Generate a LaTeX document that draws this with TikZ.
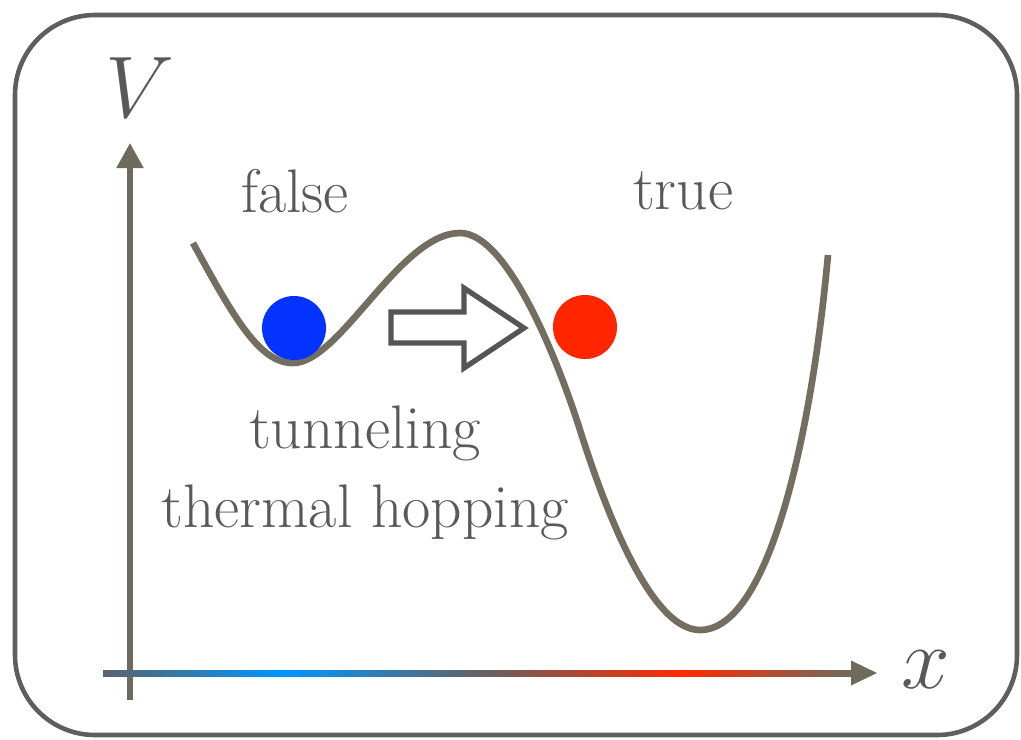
\documentclass[tikz,border=0pt]{standalone}
\usetikzlibrary{arrows.meta}

\definecolor{framegray}{HTML}{5E5E5E}
\definecolor{curvegray}{HTML}{736E5F}
\definecolor{axisgray}{HTML}{6F6B5C}
\definecolor{textgray}{HTML}{595959}
\definecolor{ballblue}{HTML}{0433FF}
\definecolor{ballred}{HTML}{FF2600}
\definecolor{axleft}{HTML}{5A626C}
\definecolor{axblue}{HTML}{0096FF}
\definecolor{axmid}{HTML}{6A5F5E}
\definecolor{axred}{HTML}{FF2A00}

% colour run along the x axis (path box = 25bp..75bp)
\pgfdeclarehorizontalshading{xaxisshade}{100bp}{color(0bp)=(axleft); color(25bp)=(axleft); color(37bp)=(axblue); color(50.8bp)=(axmid); color(63.8bp)=(axred); color(74.7bp)=(axisgray); color(100bp)=(axisgray)}

\tikzset{
  lbl/.style={text=textgray, inner sep=0pt, font=\fontsize{17.5}{21}\selectfont},
  axlbl/.style={text=textgray, inner sep=0pt, font=\fontsize{23}{27}\selectfont},
  ball/.style={circle, inner sep=0pt, minimum size=0.64cm},
  potential/.style={curvegray, line width=1.9pt},
  axisline/.style={axisgray, line width=1.5pt, -{Triangle[length=0.25cm, width=0.26cm]}}
}

\begin{document}
\begin{tikzpicture}[x=0.01cm, y=-0.01cm]
        \useasboundingbox (0,0) rectangle (1021,739);
        % \draw[help lines, gray!50, very thin] (0,0) grid[step=100] (1021,739);

        \draw[framegray, line width=1.3pt, rounded corners=0.8cm] (15,15) rectangle (1017,735);

        % axes
        \coordinate (vbot) at (130,700);
        \coordinate (vtop) at (130,143);
        \draw[axisline] (vbot) -- (vtop);
        \node[axlbl] (vlabel) at (140,88) {$V$};

        \shade[shading=xaxisshade] (103,670) rectangle (852,676);
        \coordinate (xend) at (851,673);
        \coordinate (xtip) at (877,673);
        \fill[axisgray] (851,660.5) -- (xtip) -- (851,685.5) -- cycle;
        \node[axlbl] (xlabel) at (926,670) {$x$};

        % potential
        \draw[potential] (193,243) .. controls (235,320) and (260,363) .. (293,363)
          .. controls (340,363) and (400,233) .. (460,233)
          .. controls (510,233) and (562,373) .. (580,430)
          .. controls (604,506) and (650,630) .. (700,630)
          .. controls (770,630) and (812,430) .. (828,255);

        \node[lbl] (falselbl) at (295,191) {false};
        \node[lbl] (truelbl) at (683,191) {true};

        \node[ball, fill=ballblue] (falseball) at (294,328) {};
        \node[ball, fill=ballred] (trueball) at (585,327) {};

        % hop arrow
        \draw[textgray!95!black, line width=1.5pt, fill=white, line join=miter]
          (391,312) -- (464,312) -- (464,288) -- (524,328) -- (464,368) -- (464,343) -- (391,343) -- cycle;

        \node[lbl] (tunnellbl) at (365,433) {tunneling};
        \node[lbl] (hoplbl) at (365,512) {thermal hopping};
      \end{tikzpicture}
\end{document}
